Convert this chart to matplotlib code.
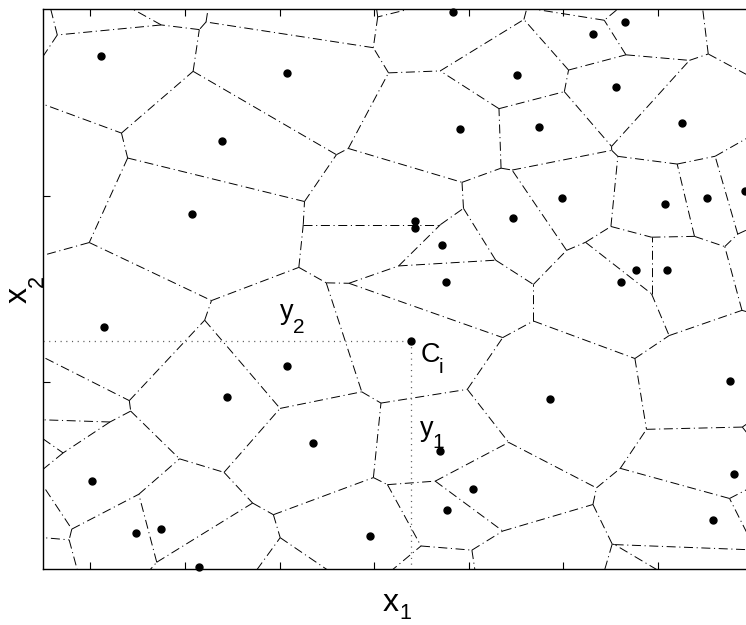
import numpy as np
import matplotlib
matplotlib.use("Agg")
import matplotlib.pyplot as plt

plt.rcParams["font.family"] = ["Liberation Sans", "DejaVu Sans"]
plt.rcParams["lines.scale_dashes"] = False

# generator points inside the frame (x1, x2 in axes units 0..1)
seed_x = [0.081, 0.340, 0.249, 0.571, 0.581, 0.660, 0.766, 0.811, 0.798, 0.691,
          0.890, 0.208, 0.518, 0.518, 0.556, 0.655, 0.723, 0.866, 0.925, 0.978,
          0.561, 0.826, 0.869, 0.805, 0.085, 0.513, 0.340, 0.256, 0.957, 0.706,
          0.376, 0.553, 0.068, 0.599, 0.563, 0.962, 0.933, 0.130, 0.164, 0.455,
          0.217]
seed_y = [0.916, 0.886, 0.764, 0.995, 0.786, 0.882, 0.955, 0.977, 0.861, 0.789,
          0.796, 0.634, 0.621, 0.609, 0.579, 0.627, 0.663, 0.652, 0.663, 0.675,
          0.513, 0.534, 0.534, 0.513, 0.432, 0.407, 0.363, 0.307, 0.336, 0.304,
          0.225, 0.211, 0.157, 0.143, 0.105, 0.170, 0.088, 0.064, 0.071, 0.059,
          0.004]
ci = 25  # the highlighted centre C_i

# generators lying just outside the frame (not drawn, they shape the border cells)
outer_x = [-0.046, 0.070, 0.102, 0.366, 0.557, 0.777, 1.029, -0.015, -0.014,
           -0.015, -0.024, -0.046, -0.054, 0.344, 0.887, 0.928, 0.659, 0.549,
           1.040, 1.054, 0.999]
outer_y = [0.982, 1.005, 1.050, 1.018, 1.039, 1.009, 0.998, 0.713, 0.279,
           0.255, 0.245, 0.098, 0.025, -0.068, -0.068, -0.014, -0.016, -0.029,
           0.570, 0.227, 0.114]

xticks = [0.066, 0.198, 0.330, 0.461, 0.593, 0.724, 0.856, 0.987]
yticks = [1 / 3, 2 / 3]


def clip(poly, labels, a, b, lab):
    # keep the part of the polygon with a.x <= b, remembering which bisector made each edge
    out, out_lab = [], []
    n = len(poly)
    for k in range(n):
        p, q = poly[k], poly[(k + 1) % n]
        fp, fq = a @ p - b, a @ q - b
        if fp <= 0:
            out.append(p)
            out_lab.append(labels[k])
            if fq > 0:
                out.append(p + fp / (fp - fq) * (q - p))
                out_lab.append(lab)
        elif fq <= 0:
            out.append(p + fp / (fp - fq) * (q - p))
            out_lab.append(labels[k])
    return out, out_lab


def voronoi_edges(xs, ys, lo=-2.0, hi=3.0):
    pts = np.column_stack([xs, ys])
    edges = []
    for i in range(len(pts)):
        poly = [np.array(v) for v in [(lo, lo), (hi, lo), (hi, hi), (lo, hi)]]
        labels = [-1] * 4
        for j in range(len(pts)):
            if j == i:
                continue
            a = pts[j] - pts[i]
            b = a @ (pts[i] + pts[j]) / 2
            poly, labels = clip(poly, labels, a, b, j)
        for k in range(len(poly)):
            if labels[k] > i:
                edges.append((poly[k], poly[(k + 1) % len(poly)]))
    return edges


def sub_text(xy, main, sub, size, subsize, adv, drop, shift=(0, 0),
             coords="data", rotation=0):
    # letter plus a lowered, smaller index (offsets in points)
    if rotation == 90:
        off_main = (shift[0], shift[1])
        off_sub = (shift[0] + drop, shift[1] + adv)
    else:
        off_main = shift
        off_sub = (shift[0] + adv, shift[1] - drop)
    for txt, off, fs in [(main, off_main, size), (sub, off_sub, subsize)]:
        ax.annotate(txt, xy, xycoords=coords, xytext=off, textcoords="offset points",
                    fontsize=fs, rotation=rotation, rotation_mode="anchor",
                    ha="left", va="baseline", annotation_clip=False)


fig = plt.figure(figsize=(7.46, 6.25), dpi=100)
ax = fig.add_axes([43 / 746, 56 / 625, 718 / 746, 560 / 625])

all_x = seed_x + outer_x
all_y = seed_y + outer_y
for p, q in voronoi_edges(all_x, all_y):
    ax.plot([p[0], q[0]], [p[1], q[1]], color="black", lw=0.7,
            dashes=(6.5, 2.6, 0.8, 2.6))

cx, cy = seed_x[ci], seed_y[ci]
ax.plot([0, cx], [cy, cy], color="0.35", lw=0.9, dashes=(0.8, 3.3))
ax.plot([cx, cx], [cy, 0], color="0.35", lw=0.9, dashes=(0.8, 3.3))

ax.plot(seed_x, seed_y, "o", color="black", ms=5, clip_on=False, zorder=5)

# annotations inside the plot
sub_text((0.330, 0.4464), "y", "2", 19.5, 15, 9.4, 10.0)
sub_text((cx, cy), "C", "i", 19.5, 15, 13.4, 8.0, shift=(6.5, -15.1))
sub_text((0.525, 0.2375), "y", "1", 19.5, 15, 8.6, 8.6)

ax.set_xlim(0, 1)
ax.set_ylim(0, 1)
ax.set_xticks(xticks)
ax.set_yticks(yticks)
ax.tick_params(direction="in", length=5, width=0.8, top=True, right=True,
               labelbottom=False, labelleft=False)
for s in ax.spines.values():
    s.set_linewidth(1.0)

# axis names
sub_text((383 / 746, 14 / 625), "x", "1", 23, 15.5, 11.5, 6.0,
         coords="figure fraction")
sub_text((27 / 746, 1 - 303 / 625), "x", "2", 23, 15.5, 11.5, 11.5,
         coords="figure fraction", rotation=90)

fig.savefig("out.png", dpi=100)
